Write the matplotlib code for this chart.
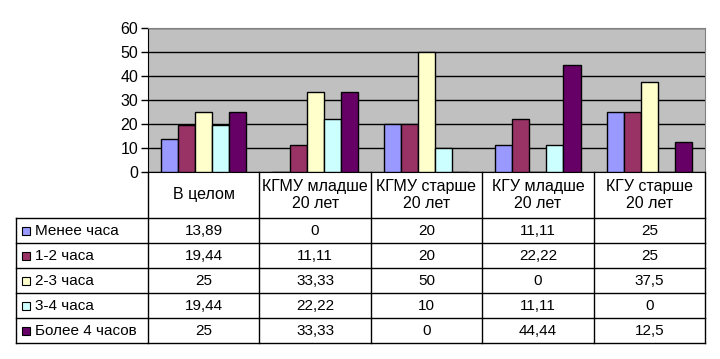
import numpy as np
import matplotlib.pyplot as plt
from matplotlib.patches import Rectangle

plt.rcParams['font.family'] = ['Liberation Sans', 'DejaVu Sans']

categories = ['В целом', 'КГМУ младше\n20 лет', 'КГМУ старше\n20 лет',
              'КГУ младше\n20 лет', 'КГУ старше\n20 лет']
series = ['Менее часа', '1-2 часа', '2-3 часа', '3-4 часа', 'Более 4 часов']
less_1h = [13.89, 0, 20, 11.11, 25]
h_1_2 = [19.44, 11.11, 20, 22.22, 25]
h_2_3 = [25, 33.33, 50, 0, 37.5]
h_3_4 = [19.44, 22.22, 10, 11.11, 0]
more_4h = [25, 33.33, 0, 44.44, 12.5]
values = [less_1h, h_1_2, h_2_3, h_3_4, more_4h]
labels = [['13,89', '0', '20', '11,11', '25'],
          ['19,44', '11,11', '20', '22,22', '25'],
          ['25', '33,33', '50', '0', '37,5'],
          ['19,44', '22,22', '10', '11,11', '0'],
          ['25', '33,33', '0', '44,44', '12,5']]
colors = ['#9999FF', '#993366', '#FFFFCC', '#CCFFFF', '#660066']

W, H = 720, 359
fig = plt.figure(figsize=(W / 100, H / 100), dpi=100)

# chart area (pixels)
x0, x1, ytop, y0 = 148, 705, 28, 172
ax = fig.add_axes([x0 / W, (H - y0) / H, (x1 - x0) / W, (y0 - ytop) / H])
ax.set_facecolor('#C0C0C0')
ax.set_xlim(0, 5)
ax.set_ylim(0, 60)
ax.set_yticks(range(0, 61, 10))
ax.set_xticks([])
ax.grid(axis='y', color='black', lw=1)
ax.set_axisbelow(True)
ax.tick_params(axis='y', length=5, width=1, labelsize=11.5, pad=2)
for s in ['top', 'right']:
    ax.spines[s].set_color('#808080')
ax.spines['left'].set_color('black')
ax.spines['bottom'].set_color('black')

bw = 0.153
idx = np.arange(5)
for k, (vals, c) in enumerate(zip(values, colors)):
    ax.bar(idx + 0.5 + (k - 2) * bw, vals, width=bw, color=c,
           edgecolor='black', lw=1, zorder=3)

# data table
tx0, ty1 = 16, 343
hdr = 46 / 25
lblw = (x0 - tx0) / ((x1 - x0) / 5)
tax = fig.add_axes([tx0 / W, (H - ty1) / H, (x1 - tx0) / W, (ty1 - y0) / H])
tax.set_xlim(-lblw, 5)
tax.set_ylim(5, -hdr)
tax.axis('off')

lk = dict(color='black', lw=1, clip_on=False)
for i in range(6):
    tax.plot([i, i], [-hdr, 5], **lk)
tax.plot([-lblw, -lblw], [0, 5], **lk)
for r in range(6):
    tax.plot([-lblw, 5], [r, r], **lk)

for i, cat in enumerate(categories):
    tax.text(i + 0.5, -hdr / 2, cat, ha='center', va='center', fontsize=11.5,
             linespacing=1.1)
ksz = 8 / 25
kx = -lblw + 6 / 111.4
for r, name in enumerate(series):
    tax.add_patch(Rectangle((kx, r + 0.5 - ksz / 2), 8 / 111.4,
                            ksz, facecolor=colors[r], edgecolor='black',
                            lw=0.8, clip_on=False))
    tax.text(-lblw + 19 / 111.4, r + 0.52, name, ha='left', va='center',
             fontsize=11)
    for i in range(5):
        tax.text(i + 0.5, r + 0.52, labels[r][i], ha='center', va='center',
                 fontsize=11)

fig.savefig('out.png', dpi=100)
